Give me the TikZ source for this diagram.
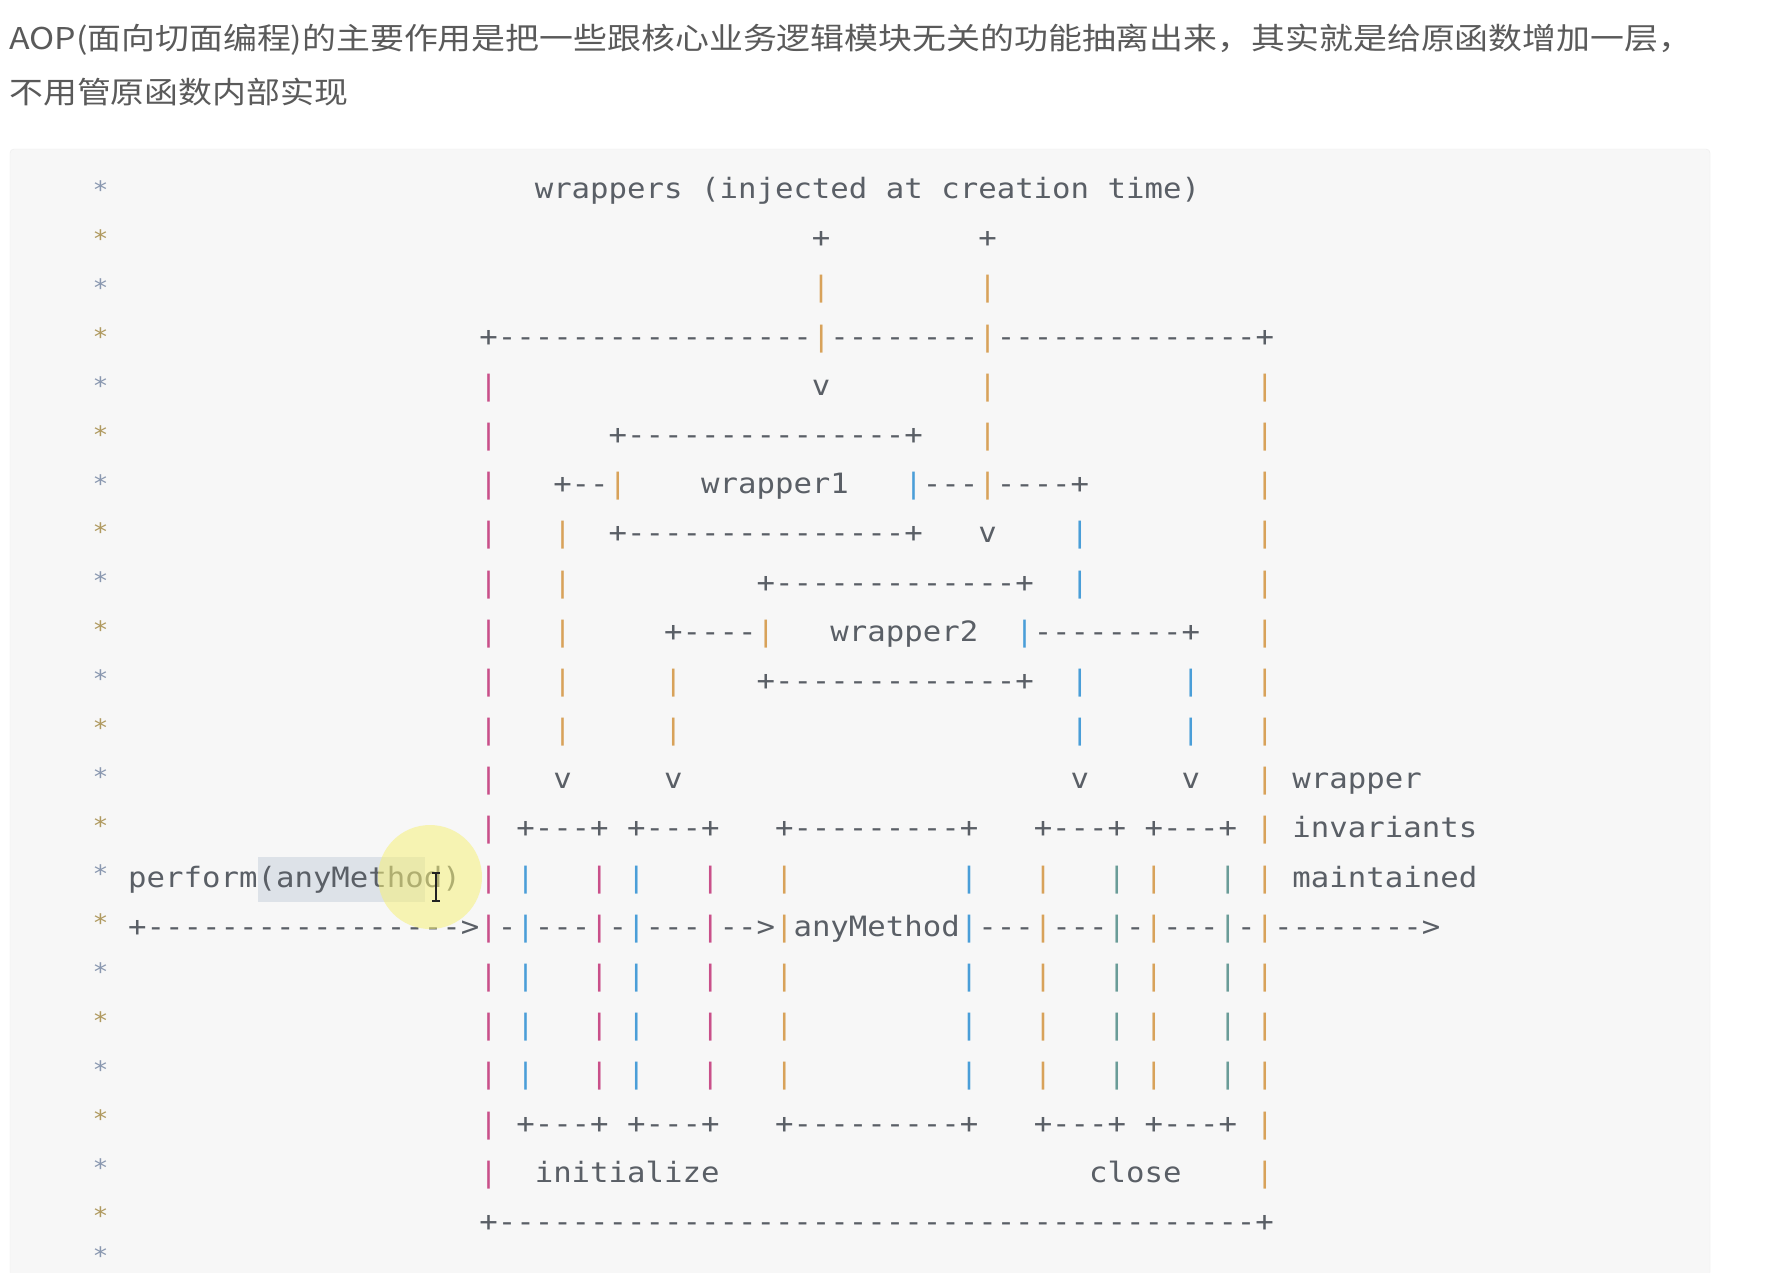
\documentclass[tikz,border=0pt]{standalone}
\usepackage{fontspec}
\newfontfamily\codefont{DejaVu Sans Mono}[FakeStretch=1.0963]
\newfontfamily\cjkfont{Noto Sans CJK SC}[FakeStretch=1.13]
\definecolor{pinkbar}{HTML}{C9508A}
\definecolor{orangebar}{HTML}{D8A25A}
\definecolor{bluebar}{HTML}{4A9ED8}
\definecolor{tealbar}{HTML}{6A9C98}
\definecolor{codegray}{HTML}{5A5F66}
\definecolor{starA}{HTML}{8A98B0}
\definecolor{starB}{HTML}{B09A60}
\definecolor{blockbg}{HTML}{F7F7F7}
\definecolor{blockline}{HTML}{ECECEC}
\definecolor{headtext}{HTML}{5A5A5A}
\definecolor{selbg}{HTML}{DDE2E8}
\definecolor{hilite}{HTML}{F6F07A}
\definecolor{cursorc}{HTML}{222222}
\newcommand\bPk{\textcolor{pinkbar}{|}}
\newcommand\bOr{\textcolor{orangebar}{|}}
\newcommand\bBl{\textcolor{bluebar}{|}}
\newcommand\bTl{\textcolor{tealbar}{|}}
\newcounter{segn}
\newcommand\seg[3]{\stepcounter{segn}\node[code] (seg\arabic{segn}) at ({91.26+18.48*#2},{198.5+49.19*#1}) {#3};}
\tikzset{
  code/.style={anchor=base west, inner sep=0pt, outer sep=0pt, text=codegray,
    font=\codefont\fontsize{28}{32}\selectfont},
  starmark/.style={anchor=center, inner sep=0pt, outer sep=0pt,
    font=\codefont\fontsize{24}{28}\selectfont},
  headline/.style={anchor=base west, inner sep=0pt, text=headtext,
    font=\cjkfont\fontsize{30}{36}\selectfont}
}
\begin{document}
\begin{tikzpicture}[x=1pt,y=-1pt]
\useasboundingbox (0,0) rectangle (1790,1272);
\clip (0,0) rectangle (1790,1272);
\fill[white] (0,0) rectangle (1790,1272);
% heading text
\node[headline] (h1) at (9,49) {AOP(面向切面编程)的主要作用是把一些跟核心业务逻辑模块无关的功能抽离出来，其实就是给原函数增加一层，};
\node[headline] (h2) at (9,103) {不用管原函数内部实现};
% code block
\draw[blockline, fill=blockbg, rounded corners=4pt] (10,149) rectangle (1710,1300);
% selection highlight
\fill[selbg] (258,857) rectangle (425,902);
% stars
\foreach \r in {0,2,...,20} {\node[starmark, text=starA] (sa\r) at ({100.5},{190+48.86*\r}) {*};}
\foreach \r in {1,3,...,21} {\node[starmark, text=starB] (sb\r) at ({100.5},{190+48.86*\r}) {*};}
\node[starmark, text=starA] (sa22) at (100.5,1256) {*};
% row 0
\seg{0}{24}{wrappers}\seg{0}{33}{(injected}\seg{0}{43}{at}\seg{0}{46}{creation}\seg{0}{55}{time)}
% row 1-2
\seg{1}{39}{+}\seg{1}{48}{+}
\seg{2}{39}{\bOr}\seg{2}{48}{\bOr}
% row 3
\seg{3}{21}{+-----------------\bOr--------\bOr--------------+}
% row 4
\seg{4}{21}{\bPk}\seg{4}{39}{v}\seg{4}{48}{\bOr}\seg{4}{63}{\bOr}
% row 5
\seg{5}{21}{\bPk}\seg{5}{28}{+---------------+}\seg{5}{48}{\bOr}\seg{5}{63}{\bOr}
% row 6
\seg{6}{21}{\bPk}\seg{6}{25}{+--\bOr}\seg{6}{33}{wrapper1}\seg{6}{44}{\bBl---\bOr----+}\seg{6}{63}{\bOr}
% row 7
\seg{7}{21}{\bPk}\seg{7}{25}{\bOr}\seg{7}{28}{+---------------+}\seg{7}{48}{v}\seg{7}{53}{\bBl}\seg{7}{63}{\bOr}
% row 8
\seg{8}{21}{\bPk}\seg{8}{25}{\bOr}\seg{8}{36}{+-------------+}\seg{8}{53}{\bBl}\seg{8}{63}{\bOr}
% row 9
\seg{9}{21}{\bPk}\seg{9}{25}{\bOr}\seg{9}{31}{+----\bOr}\seg{9}{40}{wrapper2}\seg{9}{50}{\bBl--------+}\seg{9}{63}{\bOr}
% row 10
\seg{10}{21}{\bPk}\seg{10}{25}{\bOr}\seg{10}{31}{\bOr}\seg{10}{36}{+-------------+}\seg{10}{53}{\bBl}\seg{10}{59}{\bBl}\seg{10}{63}{\bOr}
% row 11
\seg{11}{21}{\bPk}\seg{11}{25}{\bOr}\seg{11}{31}{\bOr}\seg{11}{53}{\bBl}\seg{11}{59}{\bBl}\seg{11}{63}{\bOr}
% row 12
\seg{12}{21}{\bPk}\seg{12}{25}{v}\seg{12}{31}{v}\seg{12}{53}{v}\seg{12}{59}{v}\seg{12}{63}{\bOr}\seg{12}{65}{wrapper}
% row 13
\seg{13}{21}{\bPk}\seg{13}{23}{+---+}\seg{13}{29}{+---+}\seg{13}{37}{+---------+}\seg{13}{51}{+---+}\seg{13}{57}{+---+}\seg{13}{63}{\bOr}\seg{13}{65}{invariants}
% row 14
\seg{14}{2}{perform(anyMethod)}
\seg{14}{21}{\bPk}\seg{14}{23}{\bBl}\seg{14}{27}{\bPk}\seg{14}{29}{\bBl}\seg{14}{33}{\bPk}\seg{14}{37}{\bOr}\seg{14}{47}{\bBl}\seg{14}{51}{\bOr}\seg{14}{55}{\bTl}\seg{14}{57}{\bOr}\seg{14}{61}{\bTl}\seg{14}{63}{\bOr}\seg{14}{65}{maintained}
% row 15
\seg{15}{2}{+----------------->\bPk-\bBl---\bPk-\bBl---\bPk-->\bOr anyMethod\bBl---\bOr---\bTl-\bOr---\bTl-\bOr-------->}
% rows 16-18
\foreach \r in {16,17,18} {
\seg{\r}{21}{\bPk}\seg{\r}{23}{\bBl}\seg{\r}{27}{\bPk}\seg{\r}{29}{\bBl}\seg{\r}{33}{\bPk}\seg{\r}{37}{\bOr}\seg{\r}{47}{\bBl}\seg{\r}{51}{\bOr}\seg{\r}{55}{\bTl}\seg{\r}{57}{\bOr}\seg{\r}{61}{\bTl}\seg{\r}{63}{\bOr}
}
% row 19
\seg{19}{21}{\bPk}\seg{19}{23}{+---+}\seg{19}{29}{+---+}\seg{19}{37}{+---------+}\seg{19}{51}{+---+}\seg{19}{57}{+---+}\seg{19}{63}{\bOr}
% row 20
\seg{20}{21}{\bPk}\seg{20}{24}{initialize}\seg{20}{54}{close}\seg{20}{63}{\bOr}
% row 21
\seg{21}{21}{+-----------------------------------------+}
% cursor highlight and I-beam
\fill[hilite, opacity=0.55] (430,877) circle[radius=52pt];
\draw[cursorc, line width=1.6pt] (436,873) -- (436,901) (432,873) -- (440,873) (432,901) -- (440,901);
\end{tikzpicture}
\end{document}
